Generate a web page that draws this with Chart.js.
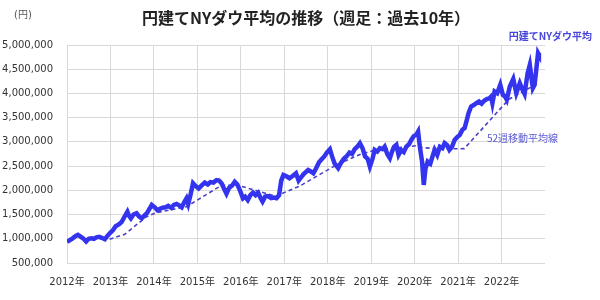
<!DOCTYPE html>
<html>
<head>
<meta charset="utf-8">
<script src="https://cdn.jsdelivr.net/npm/chart.js@4"></script>
<style>
  body { margin: 0; background: #fff; }
  #wrap { width: 600px; height: 300px; }
</style>
</head>
<body>
<div id="wrap"><canvas id="dow"></canvas></div>
<script>
// weekly close (approx), x = decimal year, y = yen
var dow_dates = [
  2012.00, 2012.06, 2012.13, 2012.20, 2012.25, 2012.32, 2012.38, 2012.44, 2012.50, 2012.56,
  2012.62, 2012.68, 2012.74, 2012.80, 2012.87, 2012.93, 2013.00, 2013.06, 2013.12, 2013.20,
  2013.26, 2013.32, 2013.39, 2013.43, 2013.47, 2013.53, 2013.60, 2013.66, 2013.72, 2013.78,
  2013.84, 2013.90, 2013.95, 2014.02, 2014.08, 2014.14, 2014.20, 2014.27, 2014.33, 2014.40,
  2014.46, 2014.52, 2014.58, 2014.64, 2014.70, 2014.75, 2014.79, 2014.84, 2014.90, 2014.96,
  2015.03, 2015.10, 2015.17, 2015.24, 2015.30, 2015.37, 2015.44, 2015.50, 2015.56, 2015.62,
  2015.67, 2015.73, 2015.80, 2015.86, 2015.92, 2015.98, 2016.05, 2016.10, 2016.16, 2016.22,
  2016.28, 2016.34, 2016.40, 2016.46, 2016.50, 2016.56, 2016.62, 2016.70, 2016.76, 2016.82,
  2016.88, 2016.93, 2016.98, 2017.05, 2017.12, 2017.20, 2017.27, 2017.33, 2017.38, 2017.44,
  2017.50, 2017.55, 2017.61, 2017.67, 2017.73, 2017.80, 2017.86, 2017.92, 2017.98, 2018.05,
  2018.10, 2018.16, 2018.24, 2018.30, 2018.37, 2018.43, 2018.50, 2018.56, 2018.62, 2018.68,
  2018.74, 2018.80, 2018.86, 2018.92, 2018.97, 2019.03, 2019.08, 2019.14, 2019.20, 2019.26,
  2019.31, 2019.37, 2019.43, 2019.48, 2019.53, 2019.58, 2019.63, 2019.69, 2019.75, 2019.81,
  2019.87, 2019.93, 2019.98, 2020.04, 2020.08, 2020.12, 2020.17, 2020.21, 2020.25, 2020.30,
  2020.36, 2020.41, 2020.46, 2020.52, 2020.58, 2020.64, 2020.69, 2020.75, 2020.80, 2020.86,
  2020.92, 2020.98, 2021.04, 2021.10, 2021.15, 2021.20, 2021.24, 2021.30, 2021.36, 2021.42,
  2021.48, 2021.54, 2021.60, 2021.66, 2021.72, 2021.76, 2021.79, 2021.84, 2021.90, 2021.97,
  2022.03, 2022.08, 2022.12, 2022.19, 2022.27, 2022.34, 2022.42, 2022.47, 2022.53, 2022.60,
  2022.65, 2022.72, 2022.76, 2022.80, 2022.84, 2022.86
]
var dow_values = [
  940000, 970000, 1010000, 1060000, 1080000, 1040000, 1000000, 945000, 1000000, 1010000,
  1000000, 1030000, 1040000, 1020000, 990000, 1060000, 1130000, 1180000, 1260000, 1300000,
  1350000, 1450000, 1560000, 1470000, 1420000, 1500000, 1527000, 1460000, 1423000, 1480000,
  1530000, 1620000, 1700000, 1650000, 1590000, 1620000, 1640000, 1650000, 1680000, 1640000,
  1700000, 1720000, 1690000, 1650000, 1760000, 1836000, 1720000, 1900000, 2147000, 2090000,
  2040000, 2100000, 2160000, 2120000, 2170000, 2160000, 2210000, 2200000, 2140000, 2020000,
  1930000, 2050000, 2100000, 2175000, 2120000, 2000000, 1836000, 1870000, 1800000, 1900000,
  1953000, 1900000, 1950000, 1830000, 1767000, 1870000, 1880000, 1840000, 1850000, 1836000,
  1900000, 2200000, 2318000, 2290000, 2250000, 2300000, 2353000, 2200000, 2260000, 2330000,
  2380000, 2420000, 2390000, 2353000, 2450000, 2580000, 2640000, 2700000, 2780000, 2850000,
  2700000, 2550000, 2457000, 2560000, 2650000, 2697000, 2780000, 2750000, 2850000, 2900000,
  2973000, 2870000, 2700000, 2650000, 2490000, 2650000, 2835000, 2800000, 2870000, 2850000,
  2903000, 2750000, 2663000, 2800000, 2900000, 2938000, 2731000, 2830000, 2790000, 2903000,
  2950000, 3050000, 3120000, 3150000, 3213000, 2900000, 2600000, 2112000, 2450000, 2593000,
  2550000, 2697000, 2835000, 2731000, 2900000, 2870000, 2973000, 2930000, 2835000, 2900000,
  3040000, 3100000, 3145000, 3250000, 3283000, 3450000, 3593000, 3730000, 3760000, 3800000,
  3833000, 3790000, 3850000, 3882000, 3900000, 3936000, 3800000, 4040000, 4006000, 4178000,
  3970000, 3936000, 3868000, 4143000, 4300000, 4006000, 4213000, 4100000, 3990000, 4420000,
  4590000, 4110000, 4178000, 4500000, 4833000, 4800000
]
// 52-week moving average, read at its bends
var ma_dates = [2012.98, 2013.33, 2013.83, 2014.06, 2014.75, 2015.55, 2015.90, 2016.80, 2017.36,
  2018.20, 2018.74, 2019.10, 2020.04, 2020.20, 2020.60, 2021.14, 2022.17, 2022.84]
var ma_values = [990000, 1093000, 1457000, 1540000, 1663000, 2100000, 2112000, 1880000, 2090000,
  2525000, 2740000, 2835000, 2920000, 2880000, 2855000, 2860000, 3880000, 4210000]

var year_ticks = [2012, 2013, 2014, 2015, 2016, 2017, 2018, 2019, 2020, 2021, 2022]
const Y_MIN = 500000;
const Y_MAX = 5000000;
const Y_STEP = 500000;

const TITLE = "円建てNYダウ平均の推移（週足：過去10年）";
const UNIT = "(円)";
const LABEL_DOW = "円建てNYダウ平均";
const LABEL_MA = "52週移動平均線";

function toPoints(xs, ys) {
  return xs.map((x, i) => ({ x: x, y: ys[i] }))
}

// title, unit and the two line labels
const textPlugin = {
  id: 'texts',
  afterDraw(chart) {
    var ctx = chart.ctx;
    var area = chart.chartArea;
    ctx.save();
    ctx.textBaseline = 'middle';
    ctx.textAlign = 'center';
    ctx.fillStyle = '#222';
    ctx.font = "bold 16px 'Noto Sans CJK JP'";
    ctx.fillText(TITLE, (area.left + area.right) / 2, 18);

    ctx.fillStyle = '#555';
    ctx.font = "10px 'DejaVu Sans', 'Noto Sans CJK JP'";
    ctx.fillText(UNIT, 23, 15);

    ctx.textAlign = 'right';
    ctx.fillStyle = '#4646DC';
    ctx.font = "bold 10px 'Noto Sans CJK JP'";
    ctx.fillText(LABEL_DOW, 592, 36);

    ctx.textAlign = 'left';
    ctx.fillStyle = '#5A5AD2';
    ctx.font = "10px 'Noto Sans CJK JP'";
    ctx.fillText(LABEL_MA, 487, 138);
    ctx.restore();
  }
}

function generateChart() {
  const ctx = document.getElementById('dow').getContext('2d');
  new Chart(ctx, {
    type: 'line',
    data: {
      datasets: [{
        label: LABEL_DOW,
        data: toPoints(dow_dates, dow_values),
        borderColor: '#3434EE',
        borderWidth: 4.5,
        pointRadius: 0,
        tension: 0,
        order: 1
      }, {
        label: LABEL_MA,
        data: toPoints(ma_dates, ma_values),
        borderColor: '#4A3FC6',
        borderWidth: 1.6,
        borderDash: [4, 3],
        pointRadius: 0,
        tension: 0,
        order: 2
      }]
    },
    options: {
      responsive: true,
      maintainAspectRatio: false,
      animation: false,
      layout: { padding: { top: 45, right: 55, left: 0, bottom: 0 } },
      plugins: {
        legend: { display: false },
        tooltip: { enabled: false }
      },
      scales: {
        x: {
          type: 'linear',
          min: 2012,
          max: 2023,
          afterFit: function (scale) { scale.height = 37 },
          afterBuildTicks: function (scale) {
            scale.ticks = year_ticks.concat([2023]).map(v => ({ value: v }))
          },
          grid: {
            drawTicks: false,
            color: c => (c.tick && c.tick.value === 2023) ? 'rgba(0,0,0,0)' : '#d9d9d9'
          },
          border: { display: false },
          ticks: {
            padding: 13,
            maxRotation: 0,
            autoSkip: false,
            color: '#333',
            font: { family: "'DejaVu Sans', 'Noto Sans CJK JP'", size: 10 },
            callback: v => (v === 2023 ? '' : v + '年')
          }
        },
        y: {
          min: Y_MIN,
          max: Y_MAX,
          afterFit: function (scale) { scale.width = 67 },
          grid: { drawTicks: false, color: '#d9d9d9' },
          border: { display: false },
          ticks: {
            stepSize: Y_STEP,
            padding: 14,
            color: '#333',
            font: { family: "'DejaVu Sans'", size: 10 },
            callback: v => v.toLocaleString('en-US')
          }
        }
      }
    },
    plugins: [textPlugin]
  });
}

generateChart()
</script>
</body>
</html>
